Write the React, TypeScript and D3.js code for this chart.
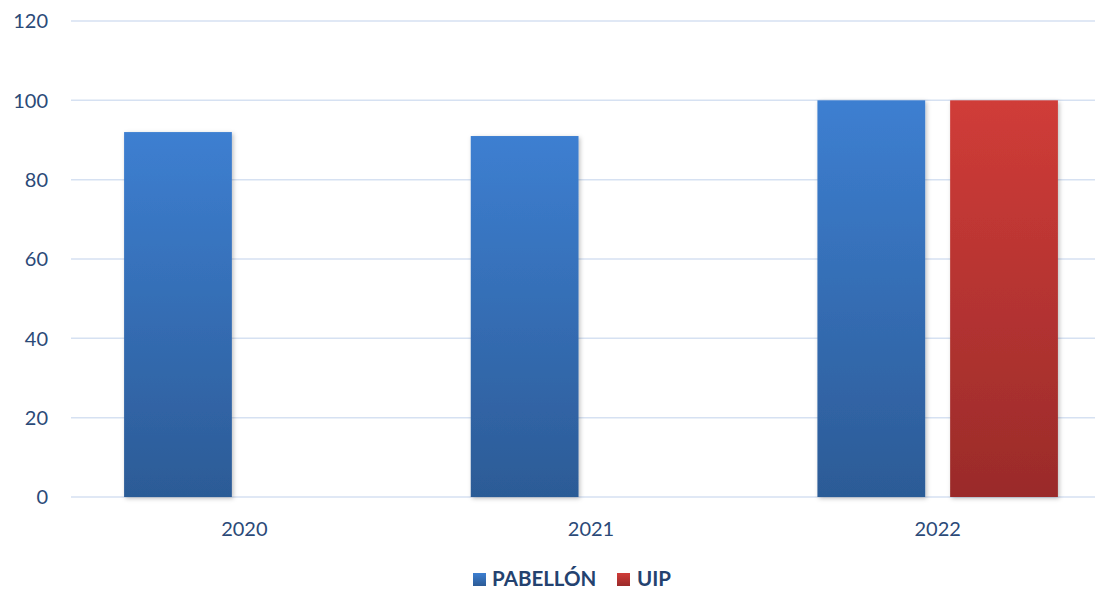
import React from "react";
import * as d3 from "d3";

// datos del gráfico
const years = ["2020", "2021", "2022"];
const seriesNames = ["PABELLÓN", "UIP"];
const pabellon = [92, 91, 100];
const uip: (number | null)[] = [null, null, 100];
const yTicks = [0, 20, 40, 60, 80, 100, 120];

const colors: Record<string, [string, string]> = {
	"PABELLÓN": ["#3d7fd1", "#2c5b96"],
	UIP: ["#d03c38", "#9a2b2a"],
};

const W = 1095;
const H = 590;
const font = "Lato, 'Open Sans', sans-serif";
const textColor = "#2b4a78";

export default function App() {
	const left = 71;
	const right = 1111;
	const top = 21;
	const bottom = 497;

	const x0 = d3.scaleBand().domain(years).range([left, right]).padding(0);
	const x1 = d3
		.scaleBand()
		.domain(seriesNames)
		.range([0, x0.bandwidth()])
		.paddingInner(0.188)
		.paddingOuter(0.4);
	const y = d3.scaleLinear().domain([0, 120]).range([bottom, top]);

	const values: Record<string, (number | null)[]> = {
		"PABELLÓN": pabellon,
		UIP: uip,
	};

	return (
		<svg
			width={W}
			height={H}
			style={{ display: "block", position: "fixed", left: 0, top: 0, background: "#fff" }}
		>
			<defs>
				{seriesNames.map((s, i) => (
					<linearGradient key={s} id={`g${i}`} x1="0" y1="0" x2="0" y2="1">
						<stop offset="0%" stopColor={colors[s][0]} />
						<stop offset="100%" stopColor={colors[s][1]} />
					</linearGradient>
				))}
				<filter id="sh" x="-10%" y="-10%" width="130%" height="130%">
					<feDropShadow dx="1.5" dy="1.5" stdDeviation="2" floodColor="#000" floodOpacity="0.25" />
				</filter>
			</defs>

			{/* líneas de cuadrícula */}
			{yTicks.map((t) => (
				<g key={t}>
					<line x1={left} x2={W} y1={y(t)} y2={y(t)} stroke="#d6e1f2" strokeWidth={1.5} />
					<text x={48} y={y(t)} dy="0.36em" textAnchor="end" fontFamily={font} fontSize={20} fill={textColor}>
						{t}
					</text>
				</g>
			))}

			{/* barras */}
			{years.map((yr, i) => (
				<g key={yr} transform={`translate(${x0(yr)},0)`}>
					{seriesNames.map((s, j) => {
						const v = values[s][i];
						if (v == null) return null;
						return (
							<rect
								key={s}
								x={x1(s)}
								y={y(v)}
								width={x1.bandwidth()}
								height={y(0) - y(v)}
								fill={`url(#g${j})`}
								filter="url(#sh)"
							/>
						);
					})}
					<text
						x={x0.bandwidth() / 2}
						y={536}
						textAnchor="middle"
						fontFamily={font}
						fontSize={20}
						fill={textColor}
					>
						{yr}
					</text>
				</g>
			))}

			{/* leyenda */}
			<g fontFamily={font} fontSize={20.5} fontWeight="bold" fill="#24426f">
				<rect x={473} y={573} width={13} height={13} fill="url(#g0)" />
				<text x={492} y={586}>PABELLÓN</text>
				<rect x={617} y={573} width={13} height={13} fill="url(#g1)" />
				<text x={637} y={586}>UIP</text>
			</g>
		</svg>
	);
}
